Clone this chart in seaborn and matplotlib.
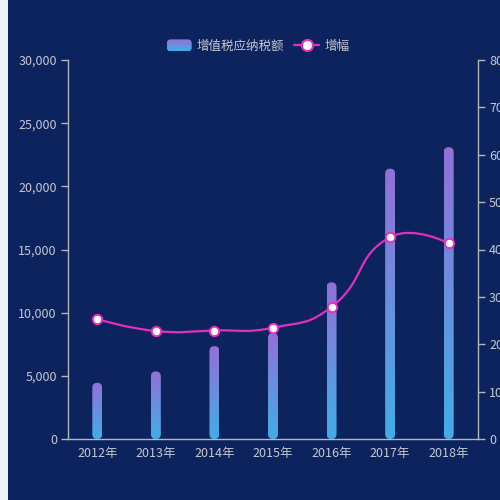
import numpy as np
import matplotlib
matplotlib.use("Agg")
import matplotlib.pyplot as plt
from matplotlib.patches import FancyBboxPatch, Rectangle, PathPatch
from matplotlib.path import Path
from matplotlib.lines import Line2D
from matplotlib.legend_handler import HandlerBase
from matplotlib.colors import to_rgb
import seaborn as sns

# ── Data ─────────────────────────────────────────────────────────────────────
years = ["2012年", "2013年", "2014年", "2015年", "2016年", "2017年", "2018年"]
vat_amount = [4450, 5350, 7350, 8400, 12400, 21400, 23100]   # 增值税应纳税额
growth = [25.3, 22.8, 22.9, 23.5, 27.9, 42.6, 41.3]           # 增幅
left_ticks = [0, 5000, 10000, 15000, 20000, 25000, 30000]
right_ticks = [0, 10, 20, 30, 40, 50, 60, 70, 80]

# fmt: off
BG_COLOR   = "#0c235e"
EDGE_COLOR = "#f0f2f8"
TEXT_COLOR = "#c6c8d2"
AXIS_COLOR = "#b4b6bc"
TOP_COLOR  = "#9470d6"
BOT_COLOR  = "#40aee8"
LINE_COLOR = "#e22fbf"
# fmt: on

sns.set_style("ticks")
plt.rcParams["font.family"] = ["Noto Sans CJK SC", "DejaVu Sans"]


def mix(c0, c1, t):
    a, b = np.array(to_rgb(c0)), np.array(to_rgb(c1))
    return tuple(a + (b - a) * t)


class GradientHandler(HandlerBase):
    """Rounded legend key with a vertical blue→purple gradient."""
    def create_artists(self, legend, orig_handle, xdescent, ydescent,
                       width, height, fontsize, trans):
        box = FancyBboxPatch((-xdescent, -ydescent), width, height,
                             boxstyle="round,pad=0,rounding_size=3",
                             facecolor="none", edgecolor="none", transform=trans)
        arts = [box]
        n = 12
        for i in range(n):
            r = Rectangle((-xdescent, -ydescent + height * i / n), width, height / n + 0.4,
                          facecolor=mix(BOT_COLOR, TOP_COLOR, i / (n - 1)),
                          edgecolor="none", transform=trans)
            r.set_clip_path(box)
            arts.append(r)
        return arts


# ── Figure ───────────────────────────────────────────────────────────────────
fig = plt.figure(figsize=(5, 5), dpi=100)
fig.patch.set_facecolor(EDGE_COLOR)
fig.add_artist(Rectangle((8 / 500, 0), 1 - 8 / 500, 1, transform=fig.transFigure,
                         facecolor=BG_COLOR, edgecolor="none", zorder=-10))

ax = fig.add_axes([68 / 500, 61 / 500, 410 / 500, 379 / 500])
ax.set_facecolor(BG_COLOR)

sns.barplot(x=years, y=vat_amount, ax=ax, width=0.17, color=BOT_COLOR)
ax.set_xlim(-0.5, len(years) - 0.5)
ax.set_ylim(0, 30000)

# rounded gradient bars on top of seaborn's bar geometry
bbox = ax.get_window_extent()
x_per_px = (len(years)) / bbox.width
y_per_px = 30000 / bbox.height
aspect = y_per_px / x_per_px
grad = np.array([mix(TOP_COLOR, BOT_COLOR, t) for t in np.linspace(0, 1, 256)])[:, None, :]

for p in list(ax.patches):
    x0, w, h = p.get_x(), p.get_width(), p.get_height()
    p.set_visible(False)
    rounded = FancyBboxPatch((x0, 0), w, h,
                             boxstyle=f"round,pad=0,rounding_size={w / 2}",
                             mutation_aspect=aspect,
                             facecolor="none", edgecolor="none")
    ax.add_patch(rounded)
    im = ax.imshow(grad, extent=[x0, x0 + w, 0, h], aspect="auto",
                   origin="upper", zorder=2)
    im.set_clip_path(rounded)

ax.set_xlim(-0.5, len(years) - 0.5)
ax.set_ylim(0, 30000)
ax.set_yticks(left_ticks)
ax.set_yticklabels([f"{v:,}" for v in left_ticks])
ax.set_xlabel("")
ax.set_ylabel("")
ax.tick_params(axis="y", colors=TEXT_COLOR, labelsize=9, length=5, width=1,
               color=AXIS_COLOR, pad=3)
ax.tick_params(axis="x", colors=TEXT_COLOR, labelsize=9, length=0, pad=6)
for side in ["top", "right"]:
    ax.spines[side].set_visible(False)
for side in ["left", "bottom"]:
    ax.spines[side].set_color(AXIS_COLOR)
    ax.spines[side].set_linewidth(1)

# ── Growth line (right axis) ────────────────────────────────────────────────
ax2 = ax.twinx()
ax2.set_facecolor("none")
ax2.set_ylim(0, 80)
ax2.set_yticks(right_ticks)
ax2.set_yticklabels([str(v) for v in right_ticks])
ax2.tick_params(axis="y", colors=TEXT_COLOR, labelsize=9, length=5, width=1,
                color=AXIS_COLOR, pad=3)
for side in ["top", "left", "bottom"]:
    ax2.spines[side].set_visible(False)
ax2.spines["right"].set_color(AXIS_COLOR)
ax2.spines["right"].set_linewidth(1)
ax2.grid(False)

xpos = np.arange(len(years))
pts = ax2.transData.transform(np.column_stack([xpos, growth]))

# echarts-style smooth bezier (smooth=0.5), computed in pixel space
smooth = 0.5
verts = [pts[0]]
codes = [Path.MOVETO]
cp0 = pts[0]
for k in range(1, len(pts)):
    p = pts[k]
    if k == len(pts) - 1:
        cp1 = p
        v = np.zeros(2)
        ratio = 0.5
    else:
        prev, nxt = pts[k - 1], pts[k + 1]
        v = nxt - prev
        len_prev = np.hypot(*(p - prev))
        len_next = np.hypot(*(nxt - p))
        ratio = len_next / (len_next + len_prev)
        cp1 = p - v * smooth * (1 - ratio)
    verts += [cp0, cp1, p]
    codes += [Path.CURVE4] * 3
    cp0 = p + v * smooth * ratio

verts = ax2.transData.inverted().transform(np.array(verts))
ax2.add_patch(PathPatch(Path(verts, codes), facecolor="none",
                        edgecolor=LINE_COLOR, linewidth=1.6, zorder=4))

sns.scatterplot(x=xpos, y=growth, ax=ax2, s=46, color="white",
                edgecolor=LINE_COLOR, linewidth=1.4, zorder=5)
ax2.set_xlim(-0.5, len(years) - 0.5)

# ── Legend ───────────────────────────────────────────────────────────────────
bar_handle = Rectangle((0, 0), 1, 1)
line_handle = Line2D([], [], color=LINE_COLOR, linewidth=1.6, marker="o",
                     markersize=8, markerfacecolor="white",
                     markeredgecolor=LINE_COLOR, markeredgewidth=1.5)
ax2.legend(handles=[bar_handle, line_handle], labels=["增值税应纳税额", "增幅"],
           handler_map={bar_handle: GradientHandler()},
           loc="center", bbox_to_anchor=(0.516, 0.908), bbox_transform=fig.transFigure,
           ncol=2, frameon=False, fontsize=9, labelcolor=TEXT_COLOR,
           handlelength=2.0, handleheight=1.1, handletextpad=0.4, columnspacing=0.8)

plt.savefig("out.png", dpi=100, facecolor=fig.get_facecolor())
plt.close()
print("Saved: out.png")
